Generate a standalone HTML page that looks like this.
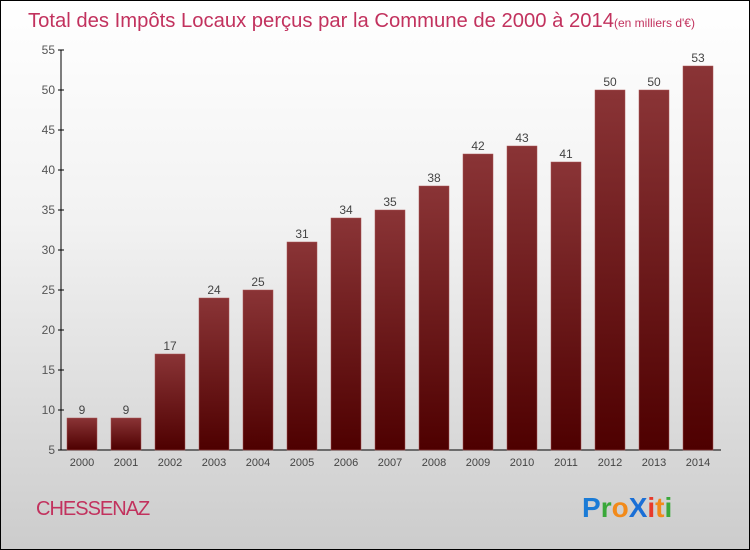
<!DOCTYPE html>
<html><head><meta charset="utf-8"><style>
body{margin:0;}
#c{width:750px;height:550px;position:relative;box-sizing:border-box;border:1px solid #000;background:linear-gradient(#ffffff,#f2f2f2 40%,#cccccc);font-family:"Liberation Sans",sans-serif;overflow:hidden;}
</style></head><body>
<div id="c">
<svg width="750" height="550" style="position:absolute;left:-1px;top:-1px">
<defs><linearGradient id="g" x1="0" y1="0" x2="0" y2="1"><stop offset="0" stop-color="#8a3436"/><stop offset="1" stop-color="#4e0000"/></linearGradient></defs>
<text x="28" y="27" font-size="20" fill="#c2325e"><tspan textLength="586" lengthAdjust="spacingAndGlyphs">Total des Impôts Locaux perçus par la Commune de 2000 à 2014</tspan><tspan font-size="12">(en milliers d'€)</tspan></text>
<g id="plot"></g>
<text x="36" y="515" font-size="20" fill="#c2325e" letter-spacing="-1">CHESSENAZ</text>
<g font-size="28" font-weight="bold" font-family="Liberation Sans, sans-serif">
<text x="582" y="517"><tspan fill="#1a7bd6">P</tspan><tspan fill="#3aa83a">r</tspan><tspan fill="#f28a1a">o</tspan><tspan fill="#1a6fd6">X</tspan><tspan fill="#e83a2a">i</tspan><tspan fill="#f28a1a">t</tspan><tspan fill="#3aa83a">i</tspan></text></g>
</svg>
</div>
<script>
const years=["2000","2001","2002","2003","2004","2005","2006","2007","2008","2009","2010","2011","2012","2013","2014"];
const values=[9,9,17,24,25,31,34,35,38,42,43,41,50,50,53];
const yTicks=[5,10,15,20,25,30,35,40,45,50,55];
const NS="http://www.w3.org/2000/svg";
const g=document.getElementById('plot');
const y=v=>450-(v-5)*8;
const x=i=>67+i*44;
function el(t,a){const e=document.createElementNS(NS,t);for(const k in a)e.setAttribute(k,a[k]);g.appendChild(e);return e;}
let ax=el('line',{x1:61,y1:50,x2:61,y2:450,stroke:'#000'});


let bx=el('line',{x1:61,y1:450,x2:721,y2:450,stroke:'#000'});


yTicks.forEach(t=>{
 el('line',{x1:58,x2:64,y1:y(t),y2:y(t),stroke:'#000'});
 const tx=el('text',{x:55,y:y(t)+4,'text-anchor':'end','font-size':12,fill:'#555'});tx.textContent=t;
 
 
});
values.forEach((v,i)=>{
 const r=el('rect',{x:x(i),y:y(v),width:30,height:450-y(v),fill:'url(#g)',stroke:'#a55',"stroke-width":0.5});
 
 
 const l=el('text',{x:x(i)+15,y:y(v)-4,'text-anchor':'middle','font-size':12,fill:'#444'});l.textContent=v;
 
 
 const xl=el('text',{x:x(i)+15,y:466,'text-anchor':'middle','font-size':11,fill:'#444'});xl.textContent=years[i];
 
 
});
</script>
</body></html>
